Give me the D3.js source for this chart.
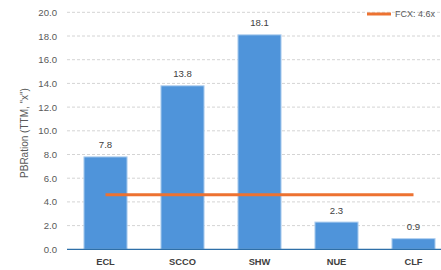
<!DOCTYPE html>
<script src="https://d3js.org/d3.v7.min.js"></script>
<body style="margin:0">
<script>
// Chart data.
const tickers = ["ECL", "SCCO", "SHW", "NUE", "CLF"];
const pbRatios = [7.8, 13.8, 18.1, 2.3, 0.9];
const benchmarkName = "FCX";
const benchmarkValue = 4.6;
const yTicks = [0, 2, 4, 6, 8, 10, 12, 14, 16, 18, 20];

const width = 441, height = 270;
const svg = d3.select("body").append("svg")
    .attr("width", width)
    .attr("height", height)
    .style("font-family", "'Liberation Sans', Arial, sans-serif");

const x = d3.scaleBand()
    .domain(tickers)
    .range([67, 452])
    .paddingInner(0.44)
    .paddingOuter(0.22);

const y = d3.scaleLinear()
    .domain([0, 20])
    .range([249.3, 12.3]);

// Gridlines.
svg.append("g")
    .selectAll("line")
    .data(yTicks.filter(d => d > 0))
    .join("line")
    .attr("x1", 67)
    .attr("x2", width)
    .attr("y1", d => y(d))
    .attr("y2", d => y(d))
    .attr("stroke", "#d4d4d4")
    .attr("stroke-dasharray", "3,2");

// Y axis labels.
const yAxis = svg.append("g")
    .attr("transform", "translate(62,0)")
    .call(d3.axisLeft(y).tickValues(yTicks).tickFormat(d3.format(".1f")).tickSize(0).tickPadding(5));
yAxis.select(".domain").remove();
yAxis.selectAll("text")
    .attr("fill", "#595959")
    .style("font-size", "9.6px")
    .style("font-family", "'Liberation Sans', Arial, sans-serif");

// Bars.
svg.append("g")
    .selectAll("rect")
    .data(tickers)
    .join("rect")
    .attr("x", d => x(d))
    .attr("width", x.bandwidth())
    .attr("y", (d, i) => y(pbRatios[i]))
    .attr("height", (d, i) => y(0) - y(pbRatios[i]))
    .attr("fill", "#4f94da")
    .attr("stroke", "#b3d1f0")
    .attr("stroke-width", 1);

// Value labels.
svg.append("g")
    .selectAll("text")
    .data(tickers)
    .join("text")
    .attr("x", d => x(d) + x.bandwidth() / 2)
    .attr("y", (d, i) => y(pbRatios[i]) - 8.5)
    .attr("text-anchor", "middle")
    .attr("fill", "#404040")
    .style("font-size", "9.6px")
    .text((d, i) => pbRatios[i].toFixed(1));

// Baseline.
svg.append("line")
    .attr("x1", 67)
    .attr("x2", width)
    .attr("y1", y(0))
    .attr("y2", y(0))
    .attr("stroke", "#2e6fa8")
    .attr("stroke-width", 1.2);

// X axis labels.
const xAxis = svg.append("g")
    .attr("transform", `translate(0,${y(0)})`)
    .call(d3.axisBottom(x).tickSize(0).tickPadding(9));
xAxis.select(".domain").remove();
xAxis.selectAll("text")
    .attr("fill", "#404040")
    .style("font-size", "9.3px")
    .style("font-weight", "bold")
    .style("font-family", "'Liberation Sans', Arial, sans-serif");

// Benchmark line.
const first = tickers[0], last = tickers[tickers.length - 1];
svg.append("line")
    .attr("x1", x(first) + x.bandwidth() / 2)
    .attr("x2", x(last) + x.bandwidth() / 2)
    .attr("y1", y(benchmarkValue))
    .attr("y2", y(benchmarkValue))
    .attr("stroke", "#ed7231")
    .attr("stroke-width", 3);

// Legend.
svg.append("line")
    .attr("x1", 367)
    .attr("x2", 391)
    .attr("y1", 14)
    .attr("y2", 14)
    .attr("stroke", "#ed7231")
    .attr("stroke-width", 3);
svg.append("text")
    .attr("x", 395)
    .attr("y", 17.2)
    .attr("fill", "#595959")
    .style("font-size", "9px")
    .text(`${benchmarkName}: ${benchmarkValue}x`);

// Y axis title.
svg.append("text")
    .attr("transform", "translate(28,133) rotate(-90)")
    .attr("text-anchor", "middle")
    .attr("fill", "#595959")
    .style("font-size", "10px")
    .text('PBRation (TTM, "x")');
</script>
</body>
</html>
